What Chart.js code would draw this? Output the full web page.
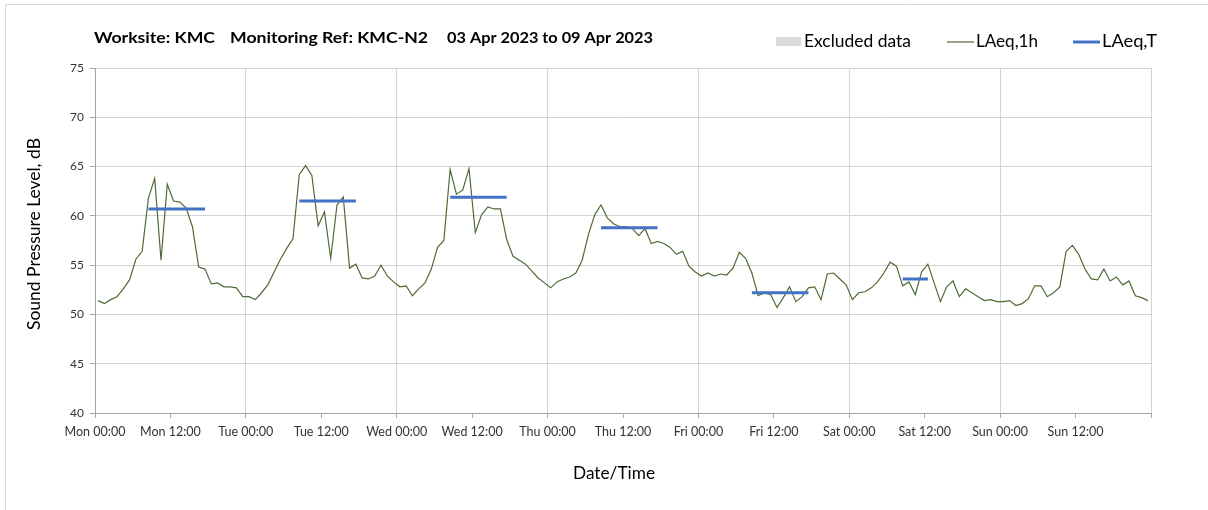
<!DOCTYPE html>
<html><head><meta charset="utf-8">
<script src="https://cdn.jsdelivr.net/npm/chart.js@4.4.0/dist/chart.umd.min.js"></script>
<style>html,body{margin:0;padding:0;background:#fff}#wrap{width:1208px;height:510px}</style>
</head><body><div id="wrap"><canvas id="c" width="1208" height="510"></canvas></div>
<script>
// ---- data ----
const dayNames = ['Mon','Tue','Wed','Thu','Fri','Sat','Sun','Mon'];
const tickTimes = ['00:00','12:00'];
const titleParts = ['Worksite: KMC', 'Monitoring Ref: KMC-N2', '03 Apr 2023 to 09 Apr 2023'];
const legendLabels = ['Excluded data', 'LAeq,1h', 'LAeq,T'];
const yAxisTitle = 'Sound Pressure Level, dB';
const xAxisTitle = 'Date/Time';
// hourly LAeq,1h from Mon 00:00 (168 hours)
const laeq1h = [
 51.4,51.1,51.5,51.8,52.6,53.5,55.6,56.4,61.8,63.8,55.5,63.2,61.5,61.4,60.8,58.9,54.8,54.6,53.1,53.2,52.8,52.8,52.7,51.8,
 51.8,51.5,52.2,53.0,54.3,55.6,56.7,57.7,64.2,65.1,64.1,59.0,60.4,55.7,61.1,61.9,54.7,55.1,53.7,53.6,53.9,55.0,53.9,53.3,
 52.8,52.9,51.9,52.6,53.2,54.6,56.8,57.5,64.7,62.2,62.6,64.8,58.3,60.1,60.9,60.7,60.7,57.6,55.9,55.5,55.1,54.4,53.7,53.2,
 52.7,53.3,53.6,53.8,54.2,55.5,58.1,60.1,61.1,59.8,59.2,58.9,58.9,58.7,58.0,58.7,57.2,57.4,57.2,56.8,56.1,56.4,54.9,54.3,
 53.9,54.2,53.9,54.1,54.0,54.7,56.3,55.7,54.2,51.9,52.2,52.0,50.7,51.7,52.8,51.3,51.8,52.7,52.8,51.5,54.1,54.2,53.6,53.0,
 51.5,52.2,52.3,52.7,53.3,54.2,55.3,54.9,52.9,53.3,52.0,54.3,55.1,53.2,51.3,52.8,53.4,51.8,52.6,52.2,51.8,51.4,51.5,51.3,
 51.3,51.4,50.9,51.1,51.6,52.9,52.9,51.8,52.2,52.8,56.4,57.0,56.1,54.6,53.6,53.5,54.6,53.4,53.8,53.0,53.4,51.9,51.7,51.4
];
// LAeq,T periods (hour indices, inclusive) and levels
const laeqTStartHour = [8, 32, 56, 80, 104, 128];
const laeqTEndHour   = [17, 41, 65, 89, 113, 132];
const laeqTValues    = [60.7, 61.5, 61.9, 58.8, 52.2, 53.6];
const yMin = 40, yMax = 75, yStep = 5;
const xMaxHours = 168, xStep = 12;

// ---- build datasets ----
const FONT = 'Lato, "Open Sans", sans-serif';
const lineData = laeq1h.map((v, i) => ({x: i + 0.5, y: v}));
const tData = [];
laeqTValues.forEach((v, k) => {
  tData.push({x: laeqTStartHour[k] + 0.5, y: v});
  tData.push({x: laeqTEndHour[k] + 0.5, y: v});
  tData.push({x: laeqTEndHour[k] + 0.6, y: null});
});

const GREEN = '#4f6b35', BLUE = '#4472c4', GRID = '#d4d4d4', AXIS = '#a6a6a6';

function fitText(ctx, text, x, y, width) {
  const w = ctx.measureText(text).width;
  ctx.save();
  ctx.translate(x, y);
  ctx.scale(width / w, 1);
  ctx.fillText(text, 0, 0);
  ctx.restore();
}

const decor = {
  id: 'decor',
  afterDraw(chart) {
    const ctx = chart.ctx;
    ctx.save();
    // frame
    ctx.strokeStyle = '#d9d9d9'; ctx.lineWidth = 1;
    ctx.beginPath(); ctx.moveTo(5.5, 510); ctx.lineTo(5.5, 4.5); ctx.lineTo(1208, 4.5); ctx.stroke();
    // title
    ctx.fillStyle = '#000'; ctx.textBaseline = 'middle'; ctx.textAlign = 'left';
    ctx.font = 'bold 16px ' + FONT;
    const tx = [94, 230, 447], tw = [121, 198, 206];
    titleParts.forEach((t, i) => fitText(ctx, t, tx[i], 38, tw[i]));
    // legend
    ctx.font = '17px ' + FONT;
    ctx.fillStyle = '#d9d9d9'; ctx.fillRect(776, 37, 25, 9);
    ctx.fillStyle = '#000';
    fitText(ctx, legendLabels[0], 804, 42, 107);
    ctx.strokeStyle = GREEN; ctx.lineWidth = 1.2;
    ctx.beginPath(); ctx.moveTo(947, 42); ctx.lineTo(974, 42); ctx.stroke();
    fitText(ctx, legendLabels[1], 976, 42, 62);
    ctx.strokeStyle = BLUE; ctx.lineWidth = 3;
    ctx.beginPath(); ctx.moveTo(1073, 42); ctx.lineTo(1100, 42); ctx.stroke();
    fitText(ctx, legendLabels[2], 1102, 42, 55);
    // axis titles
    ctx.textAlign = 'left';
    ctx.font = '17px ' + FONT;
    fitText(ctx, xAxisTitle, 573, 474, 82);
    ctx.translate(35, 330); ctx.rotate(-Math.PI / 2);
    fitText(ctx, yAxisTitle, 0, 0, 192);
    ctx.restore();
  }
};

new Chart(document.getElementById('c'), {
  type: 'line',
  data: {
    datasets: [
      {label: legendLabels[1], data: lineData, borderColor: GREEN, borderWidth: 1.2, pointRadius: 0, tension: 0, order: 2},
      {label: legendLabels[2], data: tData, borderColor: BLUE, borderWidth: 3, pointRadius: 0, spanGaps: false, borderCapStyle: 'butt', order: 1}
    ]
  },
  options: {
    responsive: false, animation: false, devicePixelRatio: 1,
    layout: {padding: {top: 68, right: 57, left: 0, bottom: 0}},
    plugins: {legend: {display: false}, title: {display: false}, tooltip: {enabled: false}},
    scales: {
      x: {
        type: 'linear', min: 0, max: xMaxHours,
        afterFit(s) { s.height = 97; },
        afterBuildTicks(s) { const t = []; for (let v = 0; v <= xMaxHours; v += xStep) t.push({value: v}); s.ticks = t; },
        ticks: {
          autoSkip: false, maxRotation: 0, padding: 6, color: '#333',
          font: {family: FONT, size: 12.5},
          callback(v) { if (v >= xMaxHours) return ''; return dayNames[Math.floor(v / 24)] + ' ' + tickTimes[(v % 24) / 12]; }
        },
        grid: {
          color: c => (c.tick && c.tick.value % 24 === 0) ? GRID : 'rgba(0,0,0,0)',
          tickColor: AXIS, tickLength: 5, lineWidth: 1
        },
        border: {color: AXIS, width: 1}
      },
      y: {
        min: yMin, max: yMax,
        afterFit(s) { s.width = 95; },
        ticks: {stepSize: yStep, padding: 6, color: '#333', font: {family: FONT, size: 12}},
        grid: {color: GRID, tickColor: AXIS, tickLength: 5},
        border: {color: AXIS, width: 1}
      }
    }
  },
  plugins: [decor]
});
</script></body></html>
